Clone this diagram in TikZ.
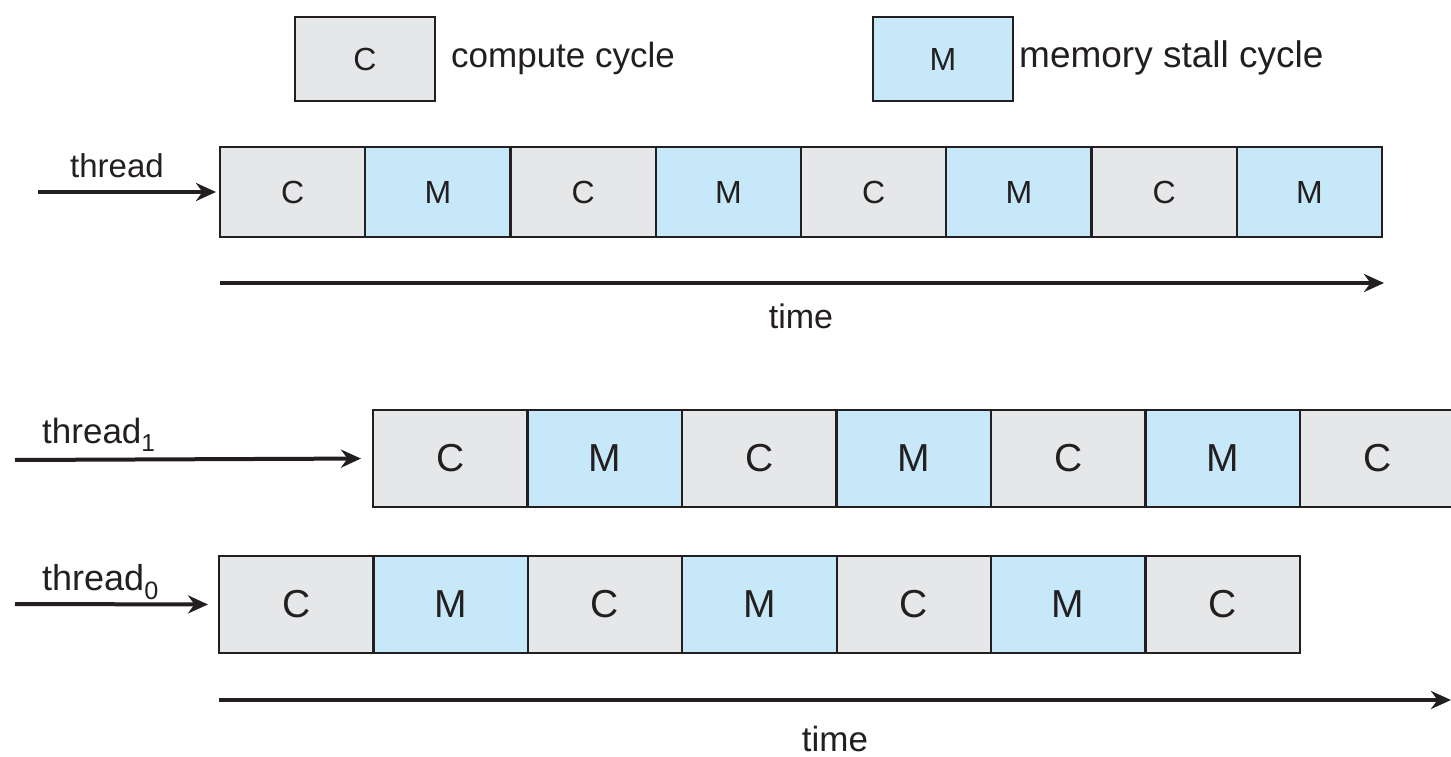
\documentclass[tikz,border=0pt]{standalone}
\usepackage{fontspec}
\setmainfont{Liberation Sans}
\usetikzlibrary{arrows.meta,positioning}
\definecolor{cgray}{HTML}{E6E7E9}
\definecolor{mblue}{HTML}{C6E8F8}
\definecolor{ink}{HTML}{231F20}
\tikzset{
  cell/.style={draw=ink, line width=2.2pt, inner sep=0pt, outer sep=0pt, text=ink},
  cbox/.style={cell, fill=cgray},
  mbox/.style={cell, fill=mblue},
  flow/.style={draw=ink, line width=4pt, -{Stealth[length=20pt,width=18pt]}},
  txt/.style={text=ink, inner sep=0pt, anchor=base},
}
\newcommand{\sz}[1]{\fontsize{#1}{#1}\selectfont}

\begin{document}
\begin{tikzpicture}[x=1pt,y=-1pt]
			\useasboundingbox (0,0) rectangle (1451,757);
			% legend
			\node[cbox, minimum width=140pt, minimum height=84pt, font=\sz{32}] (keyc) at (365,59) {C};
			\node[txt, anchor=base west, font=\sz{35}] (keyct) at (451,68) {compute cycle};
			\node[mbox, minimum width=140pt, minimum height=84pt, font=\sz{32}] (keym) at (943,59) {M};
			\node[txt, anchor=base west, font=\sz{37}] (keymt) at (1019,68) {memory stall cycle};
			% single thread
			\foreach \s/\t [count=\n] in {cbox/C,mbox/M,cbox/C,mbox/M,cbox/C,mbox/M,cbox/C,mbox/M}
				\node[\s, minimum width=145.25pt, minimum height=90pt, font=\sz{32}] (a\n) at ({220+(\n-0.5)*145.25},192) {\t};
			\node[txt, font=\sz{33}] (la) at (117,178) {thread};
			\coordinate (sa) at (38,192);
			\draw[flow, shorten >=4pt] (sa) -- (a1.west);
			\coordinate (ta0) at (220,283);
			\coordinate (ta1) at (1384,283);
			\draw[flow] (ta0) -- (ta1);
			\node[txt, font=\sz{34}] (tia) at (801,328) {time};
			% thread 1
			\foreach \s/\t [count=\n] in {cbox/C,mbox/M,cbox/C,mbox/M,cbox/C,mbox/M,cbox/C}
				\node[\s, minimum width=154.5pt, minimum height=97pt, font=\sz{39}] (b\n) at ({373+(\n-0.5)*154.5},458.5) {\t};
			\node[txt, anchor=base west, font=\sz{35}] (lb) at (42,443) {thread\textsubscript{1}};
			\coordinate (sb) at (15,460);
			\draw[flow, shorten >=12pt] (sb) -- (b1.west);
			% thread 0
			\foreach \s/\t [count=\n] in {cbox/C,mbox/M,cbox/C,mbox/M,cbox/C,mbox/M,cbox/C}
				\node[\s, minimum width=154.4pt, minimum height=97pt, font=\sz{39}] (c\n) at ({219+(\n-0.5)*154.4},604.5) {\t};
			\node[txt, anchor=base west, font=\sz{36}] (lc) at (42,590) {thread\textsubscript{0}};
			\coordinate (sc) at (15,604);
			\draw[flow, shorten >=11pt] (sc) -- (c1.west);
			\coordinate (tc0) at (219,700);
			\coordinate (tc1) at (1451,700);
			\draw[flow] (tc0) -- (tc1);
			\node[txt, font=\sz{35}] (tic) at (835,751) {time};
		\end{tikzpicture}
\end{document}
